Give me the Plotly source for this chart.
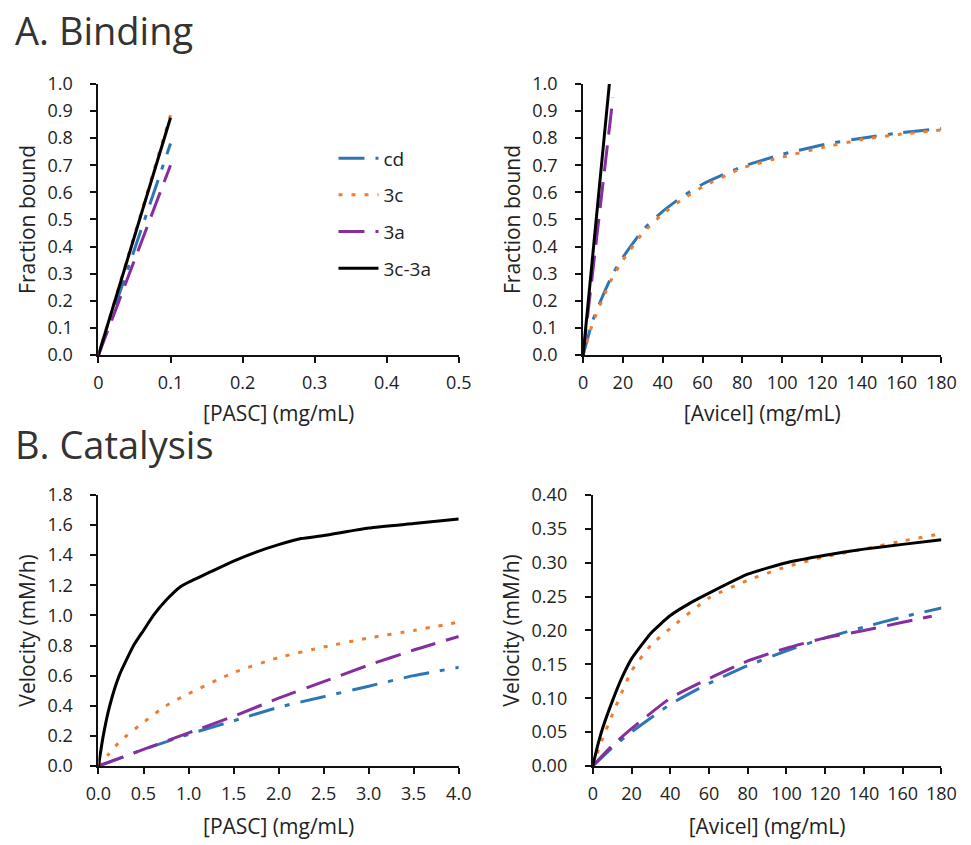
import plotly.graph_objects as go

W, H = 971, 845
FONT = "Open Sans"

series = ["cd", "3c", "3a", "3c-3a"]
colors = {"cd": "#2E75B6", "3c": "#ED7D31", "3a": "#862EA0", "3c-3a": "#000000"}
dashes = {"cd": "26px,11px,5px,11px", "3c": "4px,9px", "3a": "26px,11px", "3c-3a": "solid"}

# A. Binding, PASC
bind_pasc_x = {"cd": [0, 0.1], "3c": [0, 0.1], "3a": [0, 0.1], "3c-3a": [0, 0.1]}
bind_pasc_y = {"cd": [0, 0.78], "3c": [0, 0.885], "3a": [0, 0.70], "3c-3a": [0, 0.875]}

# A. Binding, Avicel
bind_avi_x_cd = [0, 5, 10, 15, 20, 30, 40, 50, 60, 80, 100, 120, 140, 160, 180]
bind_avi_cd = [0, 0.13, 0.22, 0.30, 0.36, 0.46, 0.53, 0.585, 0.63, 0.695, 0.74, 0.775, 0.80, 0.82, 0.835]
bind_avi_3c = [0, 0.12, 0.21, 0.29, 0.35, 0.45, 0.52, 0.575, 0.62, 0.69, 0.73, 0.765, 0.795, 0.815, 0.83]
bind_avi_x = {"cd": bind_avi_x_cd, "3c": bind_avi_x_cd, "3a": [0, 15], "3c-3a": [0, 13.2]}
bind_avi_y = {"cd": bind_avi_cd, "3c": bind_avi_3c, "3a": [0, 0.95], "3c-3a": [0, 1.0]}

# B. Catalysis, PASC
cat_pasc_x_lin = [0, 0.5, 1.0, 1.5, 2.0, 2.5, 3.0, 3.5, 4.0]
cat_pasc_x_3c = [0, 0.1, 0.25, 0.5, 0.75, 1.0, 1.5, 2.0, 2.5, 3.0, 3.5, 4.0]
cat_pasc_x_bk = [0, 0.05, 0.125, 0.23, 0.39, 0.5, 0.61, 0.75, 0.91, 1.0, 1.25, 1.5, 1.75, 2.0, 2.25, 2.5, 3.0, 3.5, 4.0]
cat_pasc_x = {"cd": cat_pasc_x_lin, "3c": cat_pasc_x_3c, "3a": cat_pasc_x_lin, "3c-3a": cat_pasc_x_bk}
cat_pasc_y = {
    "cd": [0, 0.11, 0.21, 0.30, 0.39, 0.46, 0.53, 0.60, 0.655],
    "3c": [0, 0.07, 0.17, 0.29, 0.40, 0.48, 0.62, 0.72, 0.79, 0.85, 0.90, 0.955],
    "3a": [0, 0.11, 0.22, 0.33, 0.45, 0.56, 0.67, 0.77, 0.86],
    "3c-3a": [0, 0.19, 0.40, 0.60, 0.80, 0.90, 1.00, 1.10, 1.19, 1.22, 1.29, 1.36, 1.42, 1.47, 1.51, 1.53, 1.58, 1.61, 1.64],
}

# B. Catalysis, Avicel
cat_avi_x = {
    "cd": [0, 10, 20, 40, 60, 80, 100, 120, 140, 160, 180],
    "3c": [0, 5, 10, 20, 30, 40, 60, 80, 100, 120, 140, 160, 180],
    "3a": [0, 10, 20, 40, 60, 80, 100, 120, 140, 160, 175],
    "3c-3a": [0, 2.5, 5, 10, 15, 20, 30, 40, 50, 60, 80, 100, 120, 140, 160, 180],
}
cat_avi_y = {
    "cd": [0, 0.027, 0.05, 0.091, 0.122, 0.148, 0.17, 0.189, 0.205, 0.22, 0.233],
    "3c": [0, 0.04, 0.075, 0.14, 0.178, 0.203, 0.248, 0.274, 0.294, 0.309, 0.32, 0.332, 0.343],
    "3a": [0, 0.03, 0.055, 0.10, 0.129, 0.155, 0.174, 0.189, 0.20, 0.212, 0.221],
    "3c-3a": [0, 0.03, 0.055, 0.095, 0.13, 0.158, 0.196, 0.222, 0.24, 0.255, 0.283, 0.30, 0.311, 0.32, 0.327, 0.334],
}

# tick labels
tl_x_vals = [0, 0.1, 0.2, 0.3, 0.4, 0.5]
tl_x_text = ["0", "0.1", "0.2", "0.3", "0.4", "0.5"]
tl_y_vals = [round(0.1 * i, 1) for i in range(11)]
tl_y_text = ["%.1f" % v for v in tl_y_vals]
avi_x_vals = list(range(0, 181, 20))
bl_x_vals = [0.5 * i for i in range(9)]
bl_x_text = ["%.1f" % v for v in bl_x_vals]
bl_y_vals = [0.2 * i for i in range(10)]
bl_y_text = ["%.1f" % v for v in bl_y_vals]
br_y_vals = [0.05 * i for i in range(9)]
br_y_text = ["%.2f" % v for v in br_y_vals]

fig = go.Figure()

panels = [
    ("x", "y", bind_pasc_x, bind_pasc_y, True),
    ("x2", "y2", bind_avi_x, bind_avi_y, False),
    ("x3", "y3", cat_pasc_x, cat_pasc_y, False),
    ("x4", "y4", cat_avi_x, cat_avi_y, False),
]
for xa, ya, xs, ys, show in panels:
    for s in series:
        fig.add_trace(go.Scatter(
            x=xs[s], y=ys[s], mode="lines", name=s, legendgroup=s,
            showlegend=show, xaxis=xa, yaxis=ya,
            line=dict(color=colors[s], dash=dashes[s], width=3, shape="spline", smoothing=0.5),
        ))

def px_x(a, b):
    return [a / W, b / W]

def px_y(top, bottom):
    return [1 - bottom / H, 1 - top / H]

tickfont = dict(family=FONT, size=18, color="#222222")
titlefont = dict(family=FONT, size=21, color="#222222")
common = dict(showgrid=False, zeroline=False, showline=True, linecolor="#111111", linewidth=2,
              ticks="outside", ticklen=6, tickwidth=1.6, tickcolor="#111111", tickfont=tickfont,
              fixedrange=True)
xcommon = dict(ticklabelstandoff=4, **common)
ycommon = dict(ticklabelstandoff=14, **common)

dom_top = px_y(73, 352)
dom_bot = px_y(496, 775)

fig.update_layout(
    xaxis=dict(domain=px_x(88, 459), range=[0, 0.5], tickvals=tl_x_vals, ticktext=tl_x_text,
               anchor="y", title=dict(text="[PASC] (mg/mL)", font=titlefont, standoff=14), **xcommon),
    yaxis=dict(domain=dom_top, range=[0, 1.0], tickvals=tl_y_vals, ticktext=tl_y_text, anchor="x",
               title=dict(text="Fraction bound", font=titlefont, standoff=6), **ycommon),
    xaxis2=dict(domain=px_x(587, 956), range=[0, 180], tickvals=avi_x_vals, anchor="y2",
                title=dict(text="[Avicel] (mg/mL)", font=titlefont, standoff=14), **xcommon),
    yaxis2=dict(domain=dom_top, range=[0, 1.0], tickvals=tl_y_vals, ticktext=tl_y_text, anchor="x2",
                title=dict(text="Fraction bound", font=titlefont, standoff=6), **ycommon),
    xaxis3=dict(domain=px_x(88, 459), range=[0, 4.0], tickvals=bl_x_vals, ticktext=bl_x_text, anchor="y3",
                title=dict(text="[PASC] (mg/mL)", font=titlefont, standoff=16), **xcommon),
    yaxis3=dict(domain=dom_bot, range=[0, 1.8], tickvals=bl_y_vals, ticktext=bl_y_text, anchor="x3",
                title=dict(text="Velocity (mM/h)", font=titlefont, standoff=6), **ycommon),
    xaxis4=dict(domain=px_x(597, 956), range=[0, 180], tickvals=avi_x_vals, anchor="y4",
                title=dict(text="[Avicel] (mg/mL)", font=titlefont, standoff=16), **xcommon),
    yaxis4=dict(domain=dom_bot, range=[0, 0.40], tickvals=br_y_vals, ticktext=br_y_text, anchor="x4",
                title=dict(text="Velocity (mM/h)", font=titlefont, standoff=6), **ycommon),
)

fig.update_layout(
    width=W, height=H, margin=dict(l=0, r=0, t=0, b=0),
    paper_bgcolor="white", plot_bgcolor="white",
    font=dict(family=FONT, color="#222222"),
    legend=dict(x=330 / W, y=1 - 130 / H, xanchor="left", yanchor="top",
                font=dict(family=FONT, size=19, color="#222222"),
                tracegroupgap=9, bgcolor="rgba(0,0,0,0)", itemwidth=40),
    annotations=[
        dict(text="A. Binding", x=0, y=1 - 18 / H, xref="paper", yref="paper",
             xanchor="left", yanchor="middle", showarrow=False,
             font=dict(family=FONT, size=38, color="#333333")),
        dict(text="B. Catalysis", x=0, y=1 - 444 / H, xref="paper", yref="paper",
             xanchor="left", yanchor="middle", showarrow=False,
             font=dict(family=FONT, size=38, color="#333333")),
    ],
)

fig.write_html("out.html")
